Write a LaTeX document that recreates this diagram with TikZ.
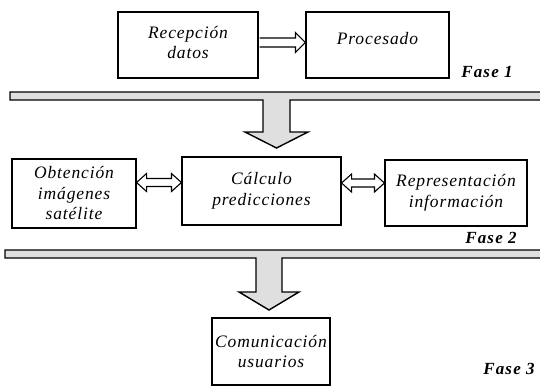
\documentclass[tikz,border=0pt]{standalone}
\usepackage{fontspec}
\setmainfont{Liberation Serif}
\newfontfamily\boxfont[LetterSpace=5]{Liberation Serif}
\newfontfamily\fasefont[LetterSpace=7]{Liberation Serif}
\usetikzlibrary{calc}
\begin{document}
\begin{tikzpicture}[x=1pt,y=-1pt,
  box/.style={draw, line width=1.1pt, inner sep=0pt, align=center,
    font=\boxfont\itshape\fontsize{17.5}{20.5}\selectfont},
  fase/.style={font=\fasefont\bfseries\itshape\fontsize{17}{19}\selectfont, inner sep=0pt},
  hollow/.style={draw, line width=1.1pt, fill=white, line join=miter},
  band/.style={draw, line width=1.4pt, fill=gray!25, line join=miter}]
\useasboundingbox (0,0) rectangle (540,388);
\clip (0,0) rectangle (540,388);

% Fase 1
\node[box, minimum width=140pt, minimum height=66pt] (rec) at (188,45) {Recepción\\datos\rule[-5pt]{0pt}{0pt}};
\node[box, minimum width=143pt, minimum height=66pt, text depth=14pt] (pro) at (377.5,45) {Procesado};
\node[fase] (f1) at (487,72) {Fase 1};

\coordinate (s1) at ($(rec.east)+(0,-2.5)$);
\coordinate (e1) at ($(pro.west)+(0,-2.5)$);
\draw[hollow] ($(s1)+(1,-4.5)$) -- ($(e1)+(-10,-4.5)$) -- ($(e1)+(-10,-10)$) -- (e1)
  -- ($(e1)+(-10,10)$) -- ($(e1)+(-10,4.5)$) -- ($(s1)+(1,4.5)$);

% band 1 with arrow
\draw[band] (550,92) -- (10,92) -- (10,100) -- (263,100) -- (263,132) -- (245,132)
  -- (276.5,148) -- (308,132) -- (290,132) -- (290,100) -- (550,100) -- cycle;

% Fase 2
\node[box, minimum width=124pt, minimum height=69pt] (obt) at (74,193.5) {Obtención\\imágenes\\satélite};
\node[box, minimum width=159pt, minimum height=68pt] (cal) at (261.5,191) {Cálculo\\predicciones};
\node[box, minimum width=142pt, minimum height=66pt] (rep) at (456,193) {Representación\\información};
\node[fase] (f2) at (491,238) {Fase 2};

\coordinate (s2) at (obt.east |- 0,182.5);
\coordinate (e2) at (cal.west |- 0,182.5);
\draw[hollow] (s2) -- ($(s2)+(10,-9)$) -- ($(s2)+(10,-4)$) -- ($(e2)+(-10,-4)$) -- ($(e2)+(-10,-9)$)
  -- (e2) -- ($(e2)+(-10,9)$) -- ($(e2)+(-10,4)$) -- ($(s2)+(10,4)$) -- ($(s2)+(10,9)$) -- cycle;

\coordinate (s3) at (cal.east |- 0,183);
\coordinate (e3) at (rep.west |- 0,183);
\draw[hollow] (s3) -- ($(s3)+(10,-9)$) -- ($(s3)+(10,-4)$) -- ($(e3)+(-10,-4)$) -- ($(e3)+(-10,-9)$)
  -- (e3) -- ($(e3)+(-10,9)$) -- ($(e3)+(-10,4)$) -- ($(s3)+(10,4)$) -- ($(s3)+(10,9)$) -- cycle;

% band 2 with arrow
\draw[band] (550,250) -- (5,250) -- (5,258) -- (256,258) -- (256,292) -- (239,292)
  -- (269,310) -- (299,292) -- (282,292) -- (282,258) -- (550,258) -- cycle;

% Fase 3
\node[box, minimum width=118pt, minimum height=67pt] (com) at (271,351.5) {Comunicación\\usuarios};
\node[fase] (f3) at (509,369) {Fase 3};
\end{tikzpicture}
\end{document}
